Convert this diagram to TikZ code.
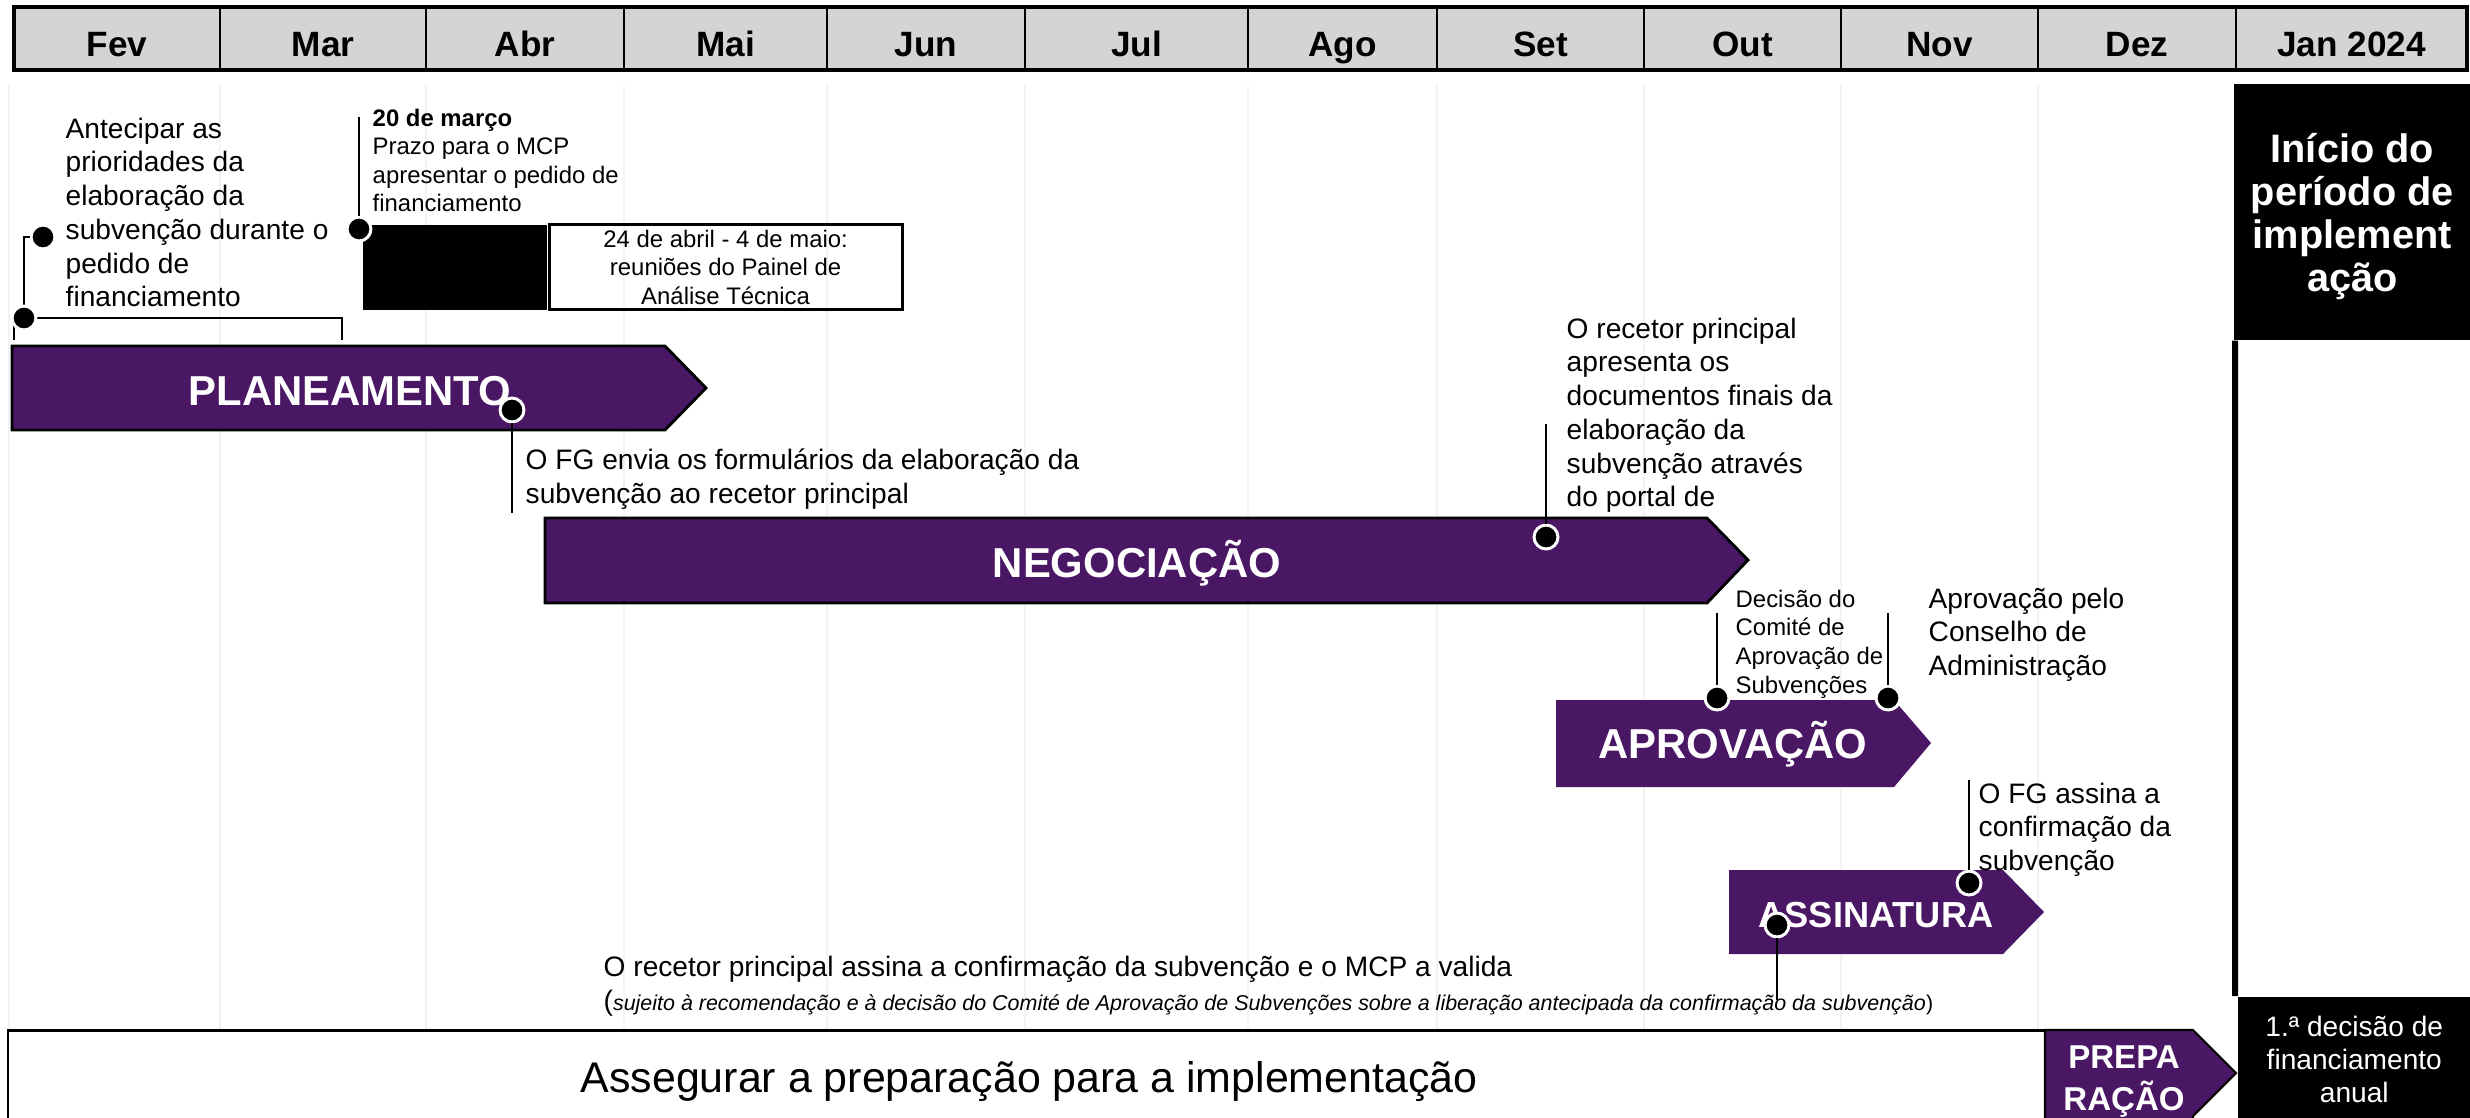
\documentclass[tikz,border=0pt]{standalone}
\usepackage{fontspec}
\setmainfont{Liberation Sans}
\usetikzlibrary{positioning}
\definecolor{phasepurple}{HTML}{4A1764}
\definecolor{headgray}{HTML}{D3D4D6}
\definecolor{gridgray}{HTML}{F3F3F3}

\tikzset{
	headcell/.style={fill=headgray, draw=black, line width=0.6pt},
	month/.style={font=\fontsize{10}{12}\selectfont\bfseries, anchor=base, inner sep=0pt},
	phase/.style={fill=phasepurple},
	phasetext/.style={text=white, font=\fontsize{11.9}{14}\selectfont\bfseries, anchor=base, inner sep=0pt},
	milestone/.style={circle, fill=black, draw=white, line width=0.85pt, minimum size=6.8pt, inner sep=0pt},
	note/.style={font=\fontsize{8}{9.6}\selectfont, align=left, inner sep=0pt, anchor=north west},
	smallnote/.style={font=\fontsize{6.8}{8.2}\selectfont, align=left, inner sep=0pt, anchor=north west},
	lead/.style={line width=0.4pt},
	blackbox/.style={fill=black, text=white, inner sep=0pt, anchor=north west, align=center},
}

\begin{document}
\begin{tikzpicture}[x=0.01cm, y=-0.01cm]
	\useasboundingbox (0,0) rectangle (2470,1117);
	\clip (0,0) rectangle (2470,1117);

	\foreach \x in {9,220,426,624,827,1025,1248,1437,1644,1841,2038}
		\draw[gridgray, line width=0.4pt] (\x,85) -- (\x,1030);

	\foreach \m/\a/\b [count=\i] in {Fev/14/220, Mar/220/426, Abr/426/624, Mai/624/827, Jun/827/1025, Jul/1025/1248, Ago/1248/1437, Set/1437/1644, Out/1644/1841, Nov/1841/2038, Dez/2038/2236, Jan 2024/2236/2467}{
		\draw[headcell] (\a,7) rectangle (\b,70);
		\node[month] (mon\i) at ({(\a+\b)/2},56) {\m};
	}
	\draw[line width=1pt] (14,7) rectangle (2467,70);

	\draw[phase, draw=black, line width=0.8pt] (12,346) -- (665,346) -- (706,388) -- (665,430) -- (12,430) -- cycle;
	\draw[phase, draw=black, line width=0.8pt] (545,518) -- (1707,518) -- (1748,560) -- (1707,603) -- (545,603) -- cycle;
	\fill[phase] (1556,700) -- (1894,700) -- (1931,743) -- (1894,787) -- (1556,787) -- cycle;
	\fill[phase] (1729,870) -- (2003,870) -- (2044,912) -- (2003,954) -- (1729,954) -- cycle;

	\node[phasetext] (plan) at (350,405) {PLANEAMENTO};
	\node[phasetext] (nego) at (1137,577) {NEGOCIAÇÃO};
	\node[phasetext] (aprov) at (1733,758) {APROVAÇÃO};
	\node[phasetext, font=\fontsize{10.3}{12}\selectfont\bfseries] (assin) at (1876,927) {ASSINATURA};

	\draw[line width=0.85pt] (8,1140) -- (8,1030) -- (2045,1030);
	\draw[phase, draw=black, line width=0.6pt] (2045,1030) -- (2193,1030) -- (2236,1073) -- (2193,1116) -- (2193,1130) -- (2045,1130) -- cycle;
	\node[text=white, font=\fontsize{9.4}{12}\selectfont\bfseries, align=center, anchor=north, inner sep=0pt] (prep) at (2124,1045) {PREPA\\RAÇÃO};
	\node[font=\fontsize{12.2}{14}\selectfont, anchor=base west, inner sep=0pt] (prepnote) at (580,1092) {Assegurar a preparação para a implementação};

	\node[blackbox, minimum width=2.37cm, minimum height=2.56cm] (start) at (2233,83) {};
	\node[text=white, align=center, inner sep=0pt, font=\fontsize{11.3}{12.2}\selectfont\bfseries] (starttext) at ([yshift=-0.05cm]start.center) {Início do\\período de\\implement\\ação};
	\node[blackbox, minimum width=2.33cm, minimum height=1.25cm, font=\fontsize{8}{9.4}\selectfont] (fin) at (2237,996) {1.ª decisão de\\financiamento\\anual};
	\draw[line width=1.7pt] ([xshift=0.02cm]start.south west) -- ([xshift=-0.02cm]fin.north west);

	\node[fill=black, minimum width=1.84cm, minimum height=0.85cm, inner sep=0pt, anchor=north west] (blk) at (362,224) {};
	\node[draw, line width=0.85pt, minimum width=3.53cm, minimum height=0.85cm, inner sep=0pt, right=0pt of blk, align=center, font=\fontsize{6.8}{8.1}\selectfont] (panel) {24 de abril - 4 de maio:\\reuniões do Painel de\\Análise Técnica};

	\coordinate (bl) at (14,340);
	\coordinate (br) at (342,340);
	\coordinate (c3) at (359,117);
	\coordinate (c4) at (512,513);
	\coordinate (c5) at (1546,424);
	\coordinate (c6) at (1717,613);
	\coordinate (c7) at (1888,613);
	\coordinate (c8) at (1969,780);
	\coordinate (c9) at (1777,1000);

	\node[milestone] (m1) at (43,237) {};
	\node[milestone] (m2) at (24,318) {};
	\node[milestone] (m3) at (359,229) {};
	\node[milestone] (m4) at (512,410) {};
	\node[milestone] (m5) at (1546,537) {};
	\node[milestone] (m6) at (1717,698) {};
	\node[milestone] (m7) at (1888,698) {};
	\node[milestone] (m8) at (1969,883) {};
	\node[milestone] (m9) at (1777,925) {};

	\draw[lead] (bl) |- (br |- m2) -- (br);
	\draw[lead] (m1) -| (m2);
	\path[lead] (m3) edge (c3);
	\path[lead] (m4) edge (c4);
	\path[lead] (m5) edge (c5);
	\path[lead] (m6) edge (c6);
	\path[lead] (m7) edge (c7);
	\path[lead] (m8) edge (c8);
	\path[lead] (m9) edge (c9);
	\node[milestone] at (m2) {};

	\node[note] (ant) at (65,117) {Antecipar as\\prioridades da\\elaboração da\\subvenção durante o\\pedido de\\financiamento};
	\node[smallnote, font=\fontsize{6.8}{8.1}\selectfont] (prazo) at (372,108) {\textbf{20 de março}\\Prazo para o MCP\\apresentar o pedido de\\financiamento};
	\node[note] (envia) at (525,448) {O FG envia os formulários da elaboração da\\subvenção ao recetor principal};
	\node[note] (docs) at (1566,317) {O recetor principal\\apresenta os\\documentos finais da\\elaboração da\\subvenção através\\do portal de};
	\node[smallnote] (comite) at (1735,589) {Decisão do\\Comité de\\Aprovação de\\Subvenções};
	\node[note] (conselho) at (1928,587) {Aprovação pelo\\Conselho de\\Administração};
	\node[note] (fgassina) at (1978,782) {O FG assina a\\confirmação da\\subvenção};
	\node[note, anchor=base west] (rpassina) at (603,976) {O recetor principal assina a confirmação da subvenção e o MCP a valida};
	\node[font=\fontsize{6.1}{7}\selectfont, anchor=base west, inner sep=0pt] (sujeito) at (603,1010) {{\fontsize{8}{9}\selectfont(}\textit{sujeito à recomendação e à decisão do Comité de Aprovação de Subvenções sobre a liberação antecipada da confirmação da subvenção})};
\end{tikzpicture}
\end{document}
